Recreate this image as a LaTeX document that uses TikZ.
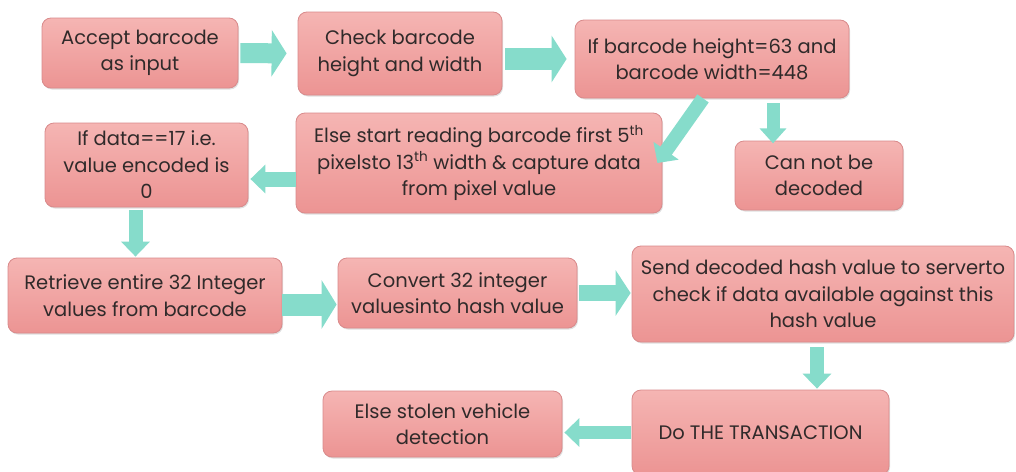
\documentclass[tikz,border=0pt]{standalone}
\usepackage{fontspec}
\setmainfont{Poppins}
\usetikzlibrary{arrows.meta,shadows}
\definecolor{boxtop}{HTML}{F5B5B3}
\definecolor{boxbot}{HTML}{EC9493}
\definecolor{boxline}{HTML}{D98A8B}
\definecolor{arrowc}{HTML}{86DCCB}
\definecolor{textc}{HTML}{302A2A}
\begin{document}
\begin{tikzpicture}[x=1pt,y=-1pt,
  box/.style={rounded corners=9pt, draw=boxline, line width=0.8pt,
    top color=boxtop, bottom color=boxbot, align=center,
    font=\fontsize{19.5}{26.5}\selectfont, text=textc, inner sep=1pt,
    drop shadow={opacity=0.25, shadow xshift=1pt, shadow yshift=-1.5pt}},
  barrow/.style 2 args={draw=arrowc, line width=#1, -{Triangle[width=#2, length=15pt]}}
]
\useasboundingbox (0,0) rectangle (1016,471);
\fill[white] (0,0) rectangle (1016,471);

\node[box, minimum width=196pt, minimum height=70pt] (n1) at (140,53) {Accept barcode\\as input};
\node[box, minimum width=204pt, minimum height=83pt] (n2) at (400,53.5) {Check barcode\\height and width};
\node[box, minimum width=274pt, minimum height=78pt] (n3) at (712,59) {If barcode height=63 and\\barcode width=448};
\node[box, minimum width=366pt, minimum height=100pt] (n4) at (479,163) {Else start reading barcode first 5\textsuperscript{th}\\pixelsto 13\textsuperscript{th} width \& capture data\\from pixel value};
\node[box, minimum width=168pt, minimum height=69pt] (n5) at (819,175.5) {Can not be\\decoded};
\node[box, minimum width=203pt, minimum height=84pt] (n6) at (146.5,165) {If data==17 i.e.\\value encoded is\\0};
\node[box, minimum width=274pt, minimum height=75pt] (n7) at (145,295.5) {Retrieve entire 32 Integer\\values from barcode};
\node[box, minimum width=239pt, minimum height=70pt] (n8) at (457.5,293) {Convert 32 integer\\valuesinto hash value};
\node[box, minimum width=382pt, minimum height=96pt] (n9) at (823,294) {Send decoded hash value to serverto\\check if data available against this\\hash value};
\node[box, minimum width=257pt, minimum height=85pt] (n10) at (760.5,432.5) {Do THE TRANSACTION};
\node[box, minimum width=239pt, minimum height=66pt] (n11) at (442.5,424) {Else stolen vehicle\\detection};

\draw[barrow={20pt}{46pt}, shorten <=2pt, shorten >=11pt] (n1.east) -- (n2.west);
\draw[barrow={22pt}{46pt}, shorten <=3pt, shorten >=8pt] (n2.east |- n3.west) -- (n3.west);
\draw[barrow={14pt}{30pt}, shorten <=0pt] ([xshift=-9pt]n3.south) -- ([xshift=-5pt]n4.east);
\draw[barrow={13pt}{26pt}, shorten <=5pt] ([xshift=61pt]n3.south) -- ++(0,45);
\draw[barrow={15pt}{28pt}, shorten >=2pt] ([yshift=-16pt]n4.west) -- ([yshift=-16pt]n4.west -| n6.east);
\draw[barrow={14pt}{28pt}, shorten <=3pt, shorten >=1pt] ([xshift=-11pt]n6.south) -- ([xshift=-11pt]n6.south |- n7.north);
\draw[barrow={22pt}{48pt}, shorten >=1pt] ([yshift=-9pt]n7.east) -- ([yshift=-9pt]n7.east -| n8.west);
\draw[barrow={16pt}{45pt}, shorten <=2pt, shorten >=1pt] (n8.east) -- (n9.west |- n8.east);
\draw[barrow={14pt}{28pt}, shorten <=5pt, shorten >=1pt] ([xshift=-6pt]n9.south) -- ([xshift=-6pt]n9.south |- n10.north);
\draw[barrow={13pt}{28pt}, shorten <=1pt, shorten >=2pt] (n10.west) -- (n10.west -| n11.east);
\end{tikzpicture}
\end{document}
